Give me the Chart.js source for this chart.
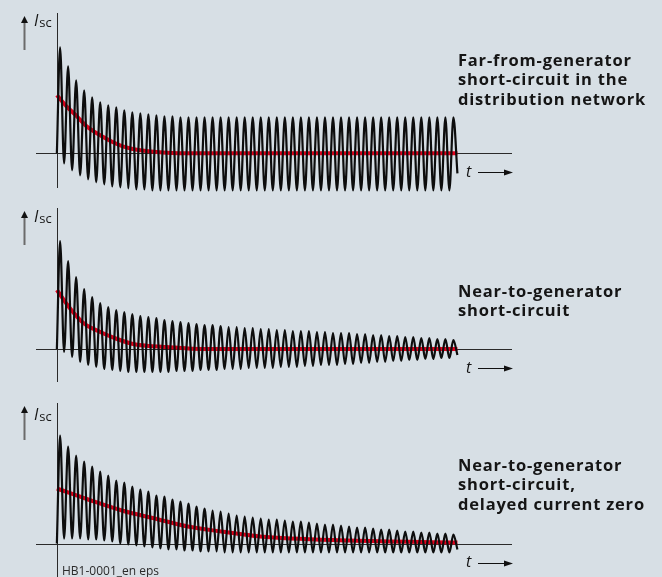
<!DOCTYPE html>
<html>
<head>
<meta charset="utf-8">
<script src="https://cdn.jsdelivr.net/npm/chart.js@4"></script>
<style>
  html, body { margin: 0; padding: 0; }
  body { width: 662px; height: 577px; background: #d7dfe5; position: relative; overflow: hidden;
         font-family: "Open Sans", "Noto Sans", sans-serif; color: #151515; }
  canvas { position: absolute; left: 0; }
  .lbl { position: absolute; font-weight: 700; font-size: 16.5px; letter-spacing: 0.8px; line-height: 19.3px; white-space: nowrap; }
  .isc { position: absolute; left: 34px; line-height: 15px; white-space: nowrap; }
  .isc i { font-size: 16px; font-style: italic; }
  .isc span { font-size: 13px; position: relative; top: 1px; margin-left: 1px; }
  .t { position: absolute; left: 466px; font-size: 16px; font-style: italic; line-height: 15px; }
  .note { position: absolute; left: 62px; top: 565px; font-size: 12px; line-height: 11px; color: #2a2a2a; }
</style>
</head>
<body>
<canvas id="c1" width="662" height="195" style="top:0px"></canvas>
<canvas id="c2" width="662" height="190" style="top:195px"></canvas>
<canvas id="c3" width="662" height="192" style="top:385px"></canvas>

<div class="isc" style="top:13px"><i>I</i><span>sc</span></div>
<div class="isc" style="top:209px"><i>I</i><span>sc</span></div>
<div class="isc" style="top:407px"><i>I</i><span>sc</span></div>

<div class="t" style="top:164px">t</div>
<div class="t" style="top:360px">t</div>
<div class="t" style="top:554px">t</div>

<div class="lbl" style="left:458px; top:50px">Far-from-generator<br>short-circuit in the<br>distribution network</div>
<div class="lbl" style="left:458px; top:281px">Near-to-generator<br>short-circuit</div>
<div class="lbl" style="left:458px; top:455px">Near-to-generator<br>short-circuit,<br>delayed current zero</div>

<div class="note">HB1-0001_en eps</div>

<script>
// time axis in cycles of the AC wave, current in drawing units (zero = 0)
var xMin = -2.6, xMax = 56.7;

// far-from-generator: AC amplitude stays constant
var peaks1 = [106, 87, 73, 63, 56, 51, 48, 46, 43, 41, 40, 39, 38, 37, 37,
  36, 36, 36, 36, 36, 36, 36, 36, 36, 36, 36, 36, 36, 36, 36, 36, 36, 36, 36, 36,
  36, 36, 36, 36, 36, 36, 36, 36, 36, 36, 36, 36, 36, 36, 36];
var troughs1 = [-10, -17, -22, -26, -29, -31, -33, -34, -35, -36, -36, -37,
  -37, -37, -37, -37, -37, -37, -37, -37, -37, -37, -37, -37, -37, -37, -37, -37,
  -37, -37, -37, -37, -37, -37, -37, -37, -37, -37, -37, -37, -37, -37, -37, -37,
  -37, -37, -37, -37, -37, -20];
var dcTime1 = [0, 1.2, 2.5, 3.7, 5.4, 7, 8.2, 10.4, 12.8, 15.8, 49.9];
var dc1 = [58, 47, 37, 27, 18, 11, 7, 3, 1, 0, 0];

// near-to-generator: AC amplitude decays too
var peaks2 = [108, 88, 72, 60, 52, 46, 42, 39, 37, 35, 33, 32, 31, 29, 28, 27, 26, 25, 24, 24,
  23, 22, 22, 21, 21, 20, 20, 19, 19, 18, 18, 18, 17, 17, 16, 16, 16, 15, 15, 14,
  14, 13, 13, 12, 12, 11, 11, 10, 10, 9];
var troughs2 = [-3, -8, -13, -16, -18, -20, -21, -22, -23, -23, -23, -23, -23, -23, -22, -22,
  -22, -21, -21, -21, -20, -20, -20, -19, -19, -19, -19, -18, -18, -18, -17, -17, -16, -16,
  -16, -15, -15, -14, -14, -13, -13, -12, -12, -11, -11, -10, -10, -9, -9, -6];
var dcTime2 = [0, 1.6, 3.3, 5.4, 7.5, 9.5, 11.6, 13.7, 18, 49.9];
var dc2 = [59, 41, 26, 17, 10, 5, 3, 2, 0, 0];

// near-to-generator, delayed current zero: slow DC decay
var peaks3 = [108, 97, 88, 82, 77, 72, 68, 63, 61, 57, 54, 52, 48, 47, 44, 42, 40, 37, 35, 33,
  32, 30, 28, 27, 26, 25, 24, 24, 23, 22, 22, 21, 20, 19, 19, 18, 17, 16, 16, 15,
  14, 14, 13, 12, 12, 11, 11, 10, 10, 9];
var troughs3 = [5, 5, 5, 4, 4, 3, 2, 0, -1, -2, -3, -4, -5, -6, -6, -7, -7, -8, -8, -8,
  -9, -9, -9, -9, -9, -9, -9, -9, -9, -9, -9, -9, -9, -9, -9, -9, -9, -9, -9, -9,
  -9, -9, -9, -9, -9, -9, -9, -9, -9, -6];
var dcTime3 = [0, 3.9, 8.1, 12.2, 16.3, 20.5, 25.3, 36.5, 49.9];
var dc3 = [55, 44, 33, 25, 17, 12, 7, 3, 1];

function wavePoints(peaks, troughs) {
  var pts = [{ x: 0, y: 0 }];
  for (var k = 0; k < peaks.length; k++) {
    pts.push({ x: k + 0.4, y: peaks[k] });
    pts.push({ x: k + 0.9, y: troughs[k] });
  }
  return pts;
}

function dcPoints(times, vals) {
  return times.map(function (t, i) { return { x: t, y: vals[i] }; });
}

// axis cross and the two small arrows
var axesPlugin = {
  id: 'axes',
  beforeDatasetsDraw: function (chart) {
    var ctx = chart.ctx, a = chart.chartArea;
    var x0 = chart.scales.x.getPixelForValue(0);
    var y0 = chart.scales.y.getPixelForValue(0);
    ctx.save();
    ctx.strokeStyle = '#2a2a2a';
    ctx.lineWidth = 1;
    ctx.beginPath();
    ctx.moveTo(a.left, Math.round(y0) + 0.5);
    ctx.lineTo(a.right, Math.round(y0) + 0.5);
    ctx.moveTo(Math.round(x0) + 0.5, a.top);
    ctx.lineTo(Math.round(x0) + 0.5, a.bottom);
    ctx.stroke();
    ctx.restore();
  },
  afterDraw: function (chart) {
    var ctx = chart.ctx, a = chart.chartArea;
    var y0 = chart.scales.y.getPixelForValue(0);
    ctx.save();
    // I_sc arrow
    var ax = 24.5, top = a.top + 3;
    ctx.strokeStyle = '#6b6b6b';
    ctx.lineWidth = 2;
    ctx.beginPath();
    ctx.moveTo(ax, top + 6);
    ctx.lineTo(ax, top + 34);
    ctx.stroke();
    ctx.fillStyle = '#111';
    ctx.beginPath();
    ctx.moveTo(ax, top);
    ctx.lineTo(ax - 3.5, top + 7);
    ctx.lineTo(ax + 3.5, top + 7);
    ctx.closePath();
    ctx.fill();
    // t arrow
    var ty = Math.round(y0 + 19) + 0.5;
    ctx.strokeStyle = '#111';
    ctx.lineWidth = 1;
    ctx.beginPath();
    ctx.moveTo(478, ty);
    ctx.lineTo(506, ty);
    ctx.stroke();
    ctx.beginPath();
    ctx.moveTo(a.right + 1, ty);
    ctx.lineTo(a.right - 8, ty - 3);
    ctx.lineTo(a.right - 8, ty + 3);
    ctx.closePath();
    ctx.fill();
    ctx.restore();
  }
};

function makePanel(id, peaks, troughs, times, vals, yMin, yMax, padTop, padBottom) {
  new Chart(document.getElementById(id), {
    type: 'line',
    data: {
      datasets: [{
        data: wavePoints(peaks, troughs),
        borderColor: '#0d0d0d',
        borderWidth: 2.2,
        cubicInterpolationMode: 'monotone',
        pointRadius: 0,
        clip: false,
        order: 0
      }, {
        data: dcPoints(times, vals),
        borderColor: '#e0001b',
        borderWidth: 4,
        cubicInterpolationMode: 'monotone',
        pointRadius: 0,
        clip: false,
        order: 1
      }]
    },
    options: {
      responsive: false,
      animation: false,
      events: [],
      layout: { padding: { left: 36, right: 150, top: padTop, bottom: padBottom } },
      plugins: { legend: { display: false }, tooltip: { enabled: false } },
      scales: {
        x: { type: 'linear', min: xMin, max: xMax, display: false },
        y: { type: 'linear', min: yMin, max: yMax, display: false }
      }
    },
    plugins: [axesPlugin]
  });
}

makePanel('c1', peaks1, troughs1, dcTime1, dc1, -34.7, 140.3, 13, 7);
makePanel('c2', peaks2, troughs2, dcTime2, dc2, -33, 141, 13, 3);
makePanel('c3', peaks3, troughs3, dcTime3, dc3, -33.5, 140.5, 18, 0);
</script>
</body>
</html>
